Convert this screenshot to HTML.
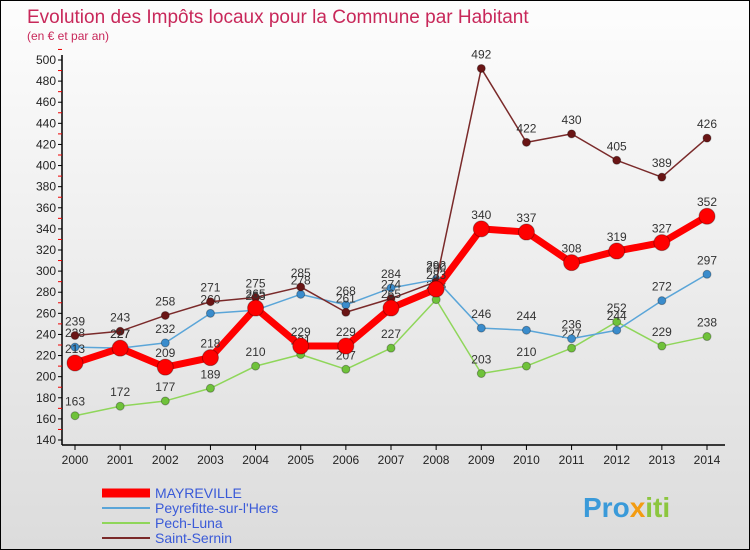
<!DOCTYPE html>
<html><head><meta charset="utf-8"><style>
body{margin:0;width:750px;height:550px;overflow:hidden;font-family:"Liberation Sans",sans-serif}
#wrap{position:absolute;left:0;top:0;width:748px;height:548px;border:1px solid #000;background:linear-gradient(#fdfdfd,#dcdcdc)}
</style></head><body>
<div id="wrap">
<svg id="c" width="750" height="550" style="position:absolute;left:-1px;top:-1px">
<text x="27" y="23" font-size="19" fill="#c8285a" font-weight="300">Evolution des Impôts locaux pour la Commune par Habitant</text>
<text x="27" y="40" font-size="12" fill="#c8285a">(en € et par an)</text>
<g id="axes"></g><g id="series"></g>
<g id="legend"></g>
<text x="583" y="517" font-size="28" font-weight="bold" fill="#3a9ad9">Pro<tspan fill="#f39c12">x</tspan><tspan fill="#8cc63f">iti</tspan></text>
</svg></div>
<script>
const years=[2000,2001,2002,2003,2004,2005,2006,2007,2008,2009,2010,2011,2012,2013,2014];
const mayreville=[213,227,209,218,265,229,229,265,283,340,337,308,319,327,352];
const peyrefitte=[228,227,232,260,263,278,268,284,292,246,244,236,244,272,297];
const pechLuna=[163,172,177,189,210,221,207,227,273,203,210,227,252,229,238];
const saintSernin=[239,243,258,271,275,285,261,274,290,492,422,430,405,389,426];
const yTicks=[140,160,180,200,220,240,260,280,300,320,340,360,380,400,420,440,460,480,500];
const NS="http://www.w3.org/2000/svg";
const X=i=>75+i*(707-75)/14;
const Y=v=>440-(v-140)*380/360;
function mk(t,a,p){const e=document.createElementNS(NS,t);for(const k in a)e.setAttribute(k,a[k]);p.appendChild(e);return e;}
const ax=document.getElementById('axes');
const yl=mk('line',{x1:62,y1:55,x2:62,y2:445,stroke:'#000','stroke-width':1.5},ax);


const xl=mk('line',{x1:62,y1:445,x2:725,y2:445,stroke:'#000','stroke-width':1.5},ax);


yTicks.forEach(v=>{
 mk('line',{x1:58,y1:Y(v),x2:62,y2:Y(v),stroke:'#000'},ax);
 mk('line',{x1:58,y1:Y(v+10),x2:62,y2:Y(v+10),stroke:'#e00'},ax);
 const t=mk('text',{x:56,y:Y(v)+4,'font-size':12,'text-anchor':'end',fill:'#222'},ax);t.textContent=v;
 
 
});
years.forEach((y,i)=>{
 mk('line',{x1:X(i),y1:445,x2:X(i),y2:450,stroke:'#000'},ax);
 const t=mk('text',{x:X(i),y:464,'font-size':12,'text-anchor':'middle',fill:'#222'},ax);t.textContent=y;
 
 
});
const S=[
 {d:pechLuna,c:'#8fd65a',dc:'#6fc23a',w:1.5,r:4,n:'Pech-Luna',id:'pech-luna'},
 {d:peyrefitte,c:'#5aa5d8',dc:'#3a8ccc',w:1.5,r:4,n:'Peyrefitte-sur-l\'Hers',id:'peyrefitte'},
 {d:saintSernin,c:'#7a2a2a',dc:'#6a1515',w:1.5,r:4,n:'Saint-Sernin',id:'saint-sernin'},
 {d:mayreville,c:'#f00',dc:'#f00',w:7,r:8,n:'MAYREVILLE',id:'mayreville'}];
const sg=document.getElementById('series');
S.forEach(s=>{
 const g=mk('g',{},sg);
 
 
 const p=mk('polyline',{points:s.d.map((v,i)=>X(i)+','+Y(v)).join(' '),fill:'none',stroke:s.c,'stroke-width':s.w,'stroke-linejoin':'round'},g);
 
 
 s.d.forEach((v,i)=>{
  const c=mk('circle',{cx:X(i),cy:Y(v),r:s.r,fill:s.dc,stroke:'rgba(0,0,0,0.3)'},g);
  
  
  const t=mk('text',{x:X(i),y:Y(v)-10,'font-size':12,'text-anchor':'middle',fill:'#333'},g);t.textContent=v;
  
  
 });
});
const lg=document.getElementById('legend');
[S[3],S[1],S[0],S[2]].forEach((s,k)=>{
 const y=493+k*15;
 const g=mk('g',{},lg);
 
 
 mk('line',{x1:102,y1:y,x2:150,y2:y,stroke:s.c,'stroke-width':k==0?9:2},g);
 const t=mk('text',{x:155,y:y+5,'font-size':14,fill:'#3a5ad8'},g);t.textContent=s.n;
});
</script>
</body></html>
